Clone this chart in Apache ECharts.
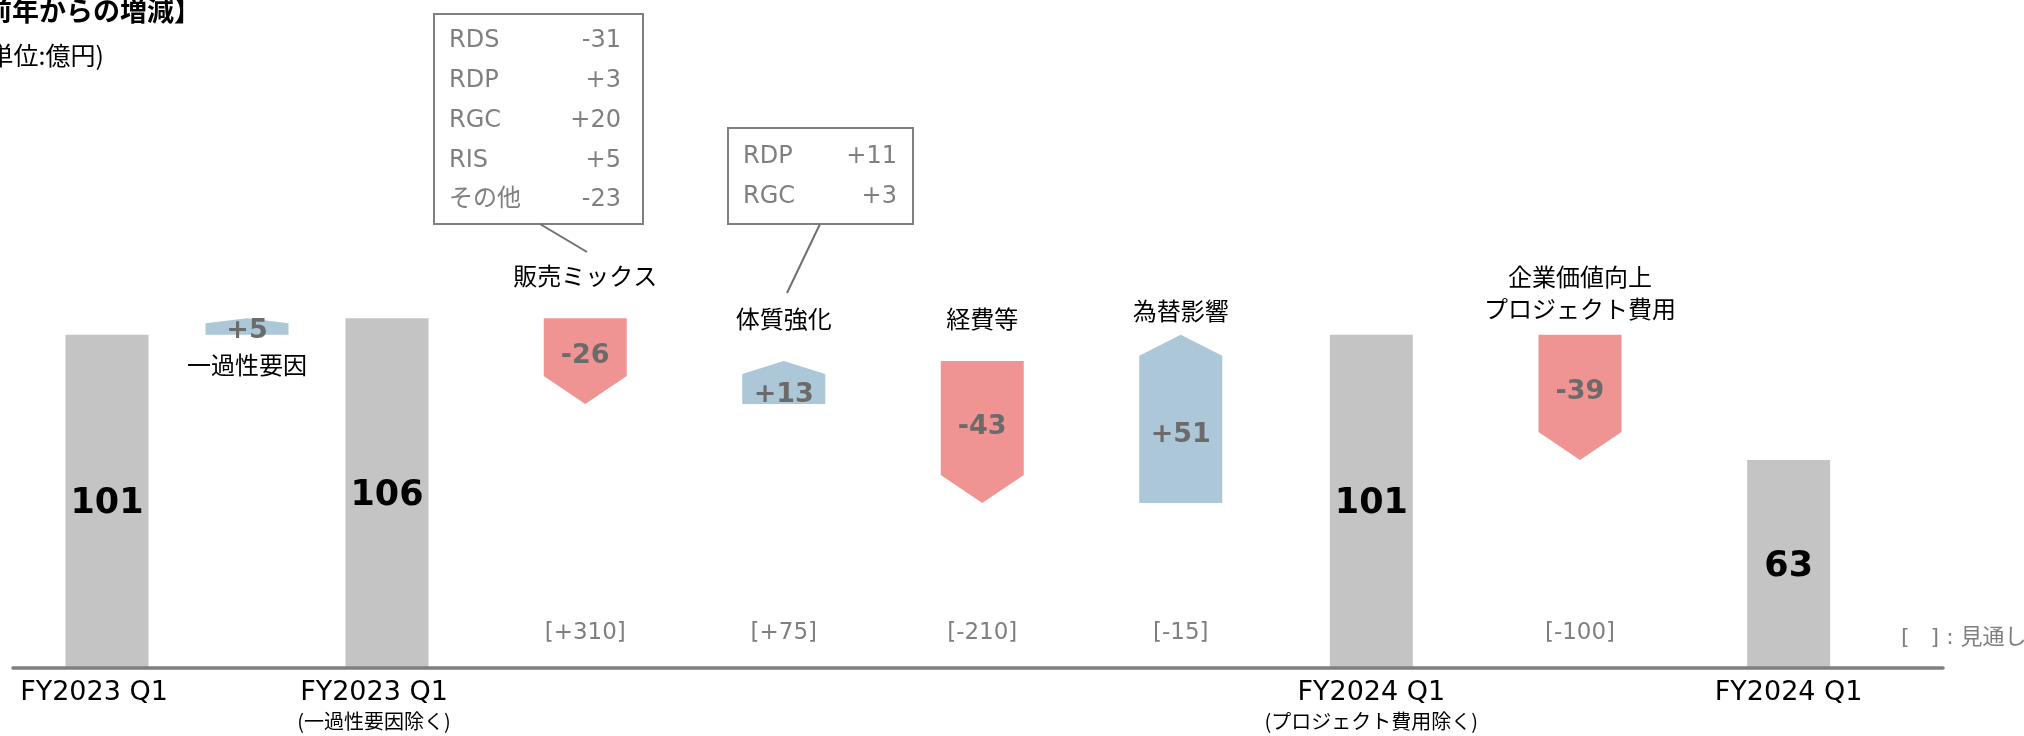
<!DOCTYPE html>
<html><head><meta charset="utf-8">
<script src="https://cdn.jsdelivr.net/npm/echarts@6/dist/echarts.min.js"></script>
<style>html,body{margin:0;padding:0;background:#fff}#chart{width:2024px;height:736px}</style>
</head><body><div id="chart"></div>
<script>
// ---------------- data ----------------
const categories = ['FY2023 Q1', '一過性要因', 'FY2023 Q1\n(一過性要因除く)', '販売ミックス', '体質強化', '経費等', '為替影響', 'FY2024 Q1\n(プロジェクト費用除く)', '企業価値向上\nプロジェクト費用', 'FY2024 Q1'];
const totals = [101, null, 106, null, null, null, null, 101, null, 63];
const deltaLabels = [null, '+5', null, '-26', '+13', '-43', '+51', null, '-39', null];
const arrowFrom = [null, 101, null, 106, 80, 93, 50, null, 101, null];
const arrowTo = [null, 106, null, 80, 93, 50, 101, null, 63, null];
const forecasts = [null, null, null, '[+310]', '[+75]', '[-210]', '[-15]', null, '[-100]', null];
const mixNames = ['RDS', 'RDP', 'RGC', 'RIS', 'その他'];
const mixValues = ['-31', '+3', '+20', '+5', '-23'];
const reformNames = ['RDP', 'RGC'];
const reformValues = ['+11', '+3'];
const titleText = '【前年からの増減】';
const unitText = '(単位:億円)';
const noteText = '[   ] : 見通し';

// ---------------- layout / style ----------------
const FONT = '"DejaVu Sans", "Noto Sans CJK JP", sans-serif';
const CJK = '"Noto Sans CJK JP", "DejaVu Sans", sans-serif';
const groups = [
  { start: 0, end: 3, left: 37, width: 420, labelShift: 26 },
  { start: 3, end: 7, left: 486, width: 794, labelShift: 0 },
  { start: 7, end: 10, left: 1267, width: 626, labelShift: 0 }
];
const namesBelow = ['一過性要因'];
const NAME_GAP = 42;
const nameGapOverride = { '為替影響': 24 };
const GRID_TOP = 173, GRID_BOTTOM = 68, YMAX = 150;
const BAR_W = 83;
const UP_COLOR = '#abc7d8', DOWN_COLOR = '#f09393', BAR_COLOR = '#c4c4c4';

const chart = echarts.init(document.getElementById('chart'));

const grids = [], xAxes = [], yAxes = [], series = [];
groups.forEach((g, gi) => {
  grids.push({ left: g.left, width: g.width, top: GRID_TOP, bottom: GRID_BOTTOM, containLabel: false });
  xAxes.push({
    type: 'category', gridIndex: gi, data: categories.slice(g.start, g.end),
    axisLine: { show: false }, axisTick: { show: false },
    axisLabel: {
      interval: 0, margin: 8, padding: [0, g.labelShift, 0, 0],
      formatter: function (value, idx) {
        const i = g.start + idx;
        if (totals[i] == null) return '';
        const parts = value.split('\n');
        return '{a|' + parts[0] + '}' + (parts[1] ? '\n{b|' + parts[1] + '}' : '');
      },
      rich: {
        a: { fontSize: 27, lineHeight: 33, color: '#000', fontFamily: FONT },
        b: { fontSize: 20, lineHeight: 24, color: '#000', fontFamily: CJK }
      }
    }
  });
  yAxes.push({ type: 'value', gridIndex: gi, min: 0, max: YMAX, show: false });

  const barData = [];
  for (let i = g.start; i < g.end; i++) barData.push(totals[i] == null ? '-' : totals[i]);
  series.push({
    type: 'bar', xAxisIndex: gi, yAxisIndex: gi, barWidth: BAR_W, data: barData,
    itemStyle: { color: BAR_COLOR }, silent: true,
    label: { show: true, position: 'inside', offset: [0, 3], color: '#000', fontSize: 35, fontWeight: 'bold', fontFamily: FONT }
  });

  const arrowData = [];
  for (let i = g.start; i < g.end; i++) {
    if (arrowFrom[i] != null) arrowData.push({ value: [i - g.start, arrowFrom[i], arrowTo[i]], gIdx: i });
  }
  series.push({
    type: 'custom', xAxisIndex: gi, yAxisIndex: gi, data: arrowData, clip: false, silent: true,
    renderItem: function (params, api) {
      const gIdx = arrowData[params.dataIndex].gIdx;
      const k = api.value(0), f = api.value(1), t = api.value(2);
      const p0 = api.coord([k, f]), p1 = api.coord([k, t]), pb = api.coord([k, 0]);
      const xc = p0[0], x0 = xc - BAR_W / 2, x1 = xc + BAR_W / 2;
      const up = t > f;
      const len = Math.abs(p1[1] - p0[1]);
      const h = up ? Math.min(21, 0.3 * len) : Math.min(28, 0.33 * len);
      const sh = up ? p1[1] + h : p1[1] - h;
      const pts = [[x0, p0[1]], [x1, p0[1]], [x1, sh], [xc, p1[1]], [x0, sh]];
      const labelY = (p0[1] + sh) / 2 + (up ? (len > 30 ? 6 : 2) : 9);
      const children = [
        { type: 'polygon', shape: { points: pts }, style: { fill: up ? UP_COLOR : DOWN_COLOR } },
        { type: 'text', x: xc, y: labelY,
          style: { text: deltaLabels[gIdx], fill: '#6b6b6b', font: 'bold 27px ' + FONT, align: 'center', verticalAlign: 'middle' } }
      ];
      const name = categories[gIdx];
      const topY = Math.min(p0[1], p1[1]), botY = Math.max(p0[1], p1[1]);
      const gap = nameGapOverride[name] != null ? nameGapOverride[name] : NAME_GAP;
      const ny = namesBelow.indexOf(name) >= 0 ? botY + 30 : topY - gap;
      children.push({ type: 'text', x: xc, y: ny,
        style: { text: name, fill: '#000', font: '24px ' + CJK, align: 'center', verticalAlign: 'middle', lineHeight: 32 } });
      if (forecasts[gIdx]) {
        children.push({ type: 'text', x: xc, y: pb[1] - 35,
          style: { text: forecasts[gIdx], fill: '#7f7f7f', font: '23px ' + FONT, align: 'center', verticalAlign: 'middle' } });
      }
      return { type: 'group', children: children };
    }
  });
});

// baseline axis grid
grids.push({ left: 13, width: 1930, top: GRID_TOP, bottom: GRID_BOTTOM });
xAxes.push({ type: 'value', gridIndex: 3, min: 0, max: 1, z: 10,
  axisLine: { show: true, lineStyle: { color: '#7f7f7f', width: 3.5 } },
  axisLabel: { show: false }, axisTick: { show: false }, splitLine: { show: false } });
yAxes.push({ type: 'value', gridIndex: 3, show: false });

// ---------------- annotations ----------------
function txt(x, y, text, font, fill, align) {
  return { type: 'text', x: x, y: y, z: 20,
    style: { text: text, font: font, fill: fill, align: align, verticalAlign: 'middle', textAlign: align, textVerticalAlign: 'middle' } };
}
function callout(x, y, w, h, names, values, rowY0, rowGap, leftX, rightX, line) {
  const els = [{ type: 'rect', z: 15, shape: { x: x, y: y, width: w, height: h },
    style: { fill: '#fff', stroke: '#808080', lineWidth: 2 } }];
  names.forEach((n, i) => {
    els.push(txt(leftX, rowY0 + i * rowGap, n, '24px ' + FONT, '#7f7f7f', 'left'));
    els.push(txt(rightX, rowY0 + i * rowGap, values[i], '24px ' + FONT, '#7f7f7f', 'right'));
  });
  els.push({ type: 'line', z: 15, shape: { x1: line[0], y1: line[1], x2: line[2], y2: line[3] },
    style: { stroke: '#6f6f6f', lineWidth: 2 } });
  return els;
}

const graphics = [].concat(
  [txt(201, 11, titleText, 'bold 27px ' + CJK, '#000', 'right'),
   txt(104, 55, unitText, '25px ' + CJK, '#000', 'right'),
   txt(1901, 638, noteText, '22px ' + FONT, '#7f7f7f', 'left')],
  callout(434, 14, 209, 210, mixNames, mixValues, 41, 39.8, 449, 621, [540, 224, 587, 252]),
  callout(728, 128, 185, 96, reformNames, reformValues, 157, 40, 743, 897, [820, 224, 787, 293])
);

chart.setOption({
  animation: false,
  backgroundColor: '#fff',
  textStyle: { fontFamily: FONT },
  grid: grids, xAxis: xAxes, yAxis: yAxes, series: series,
  graphic: { elements: graphics }
});
</script></body></html>
